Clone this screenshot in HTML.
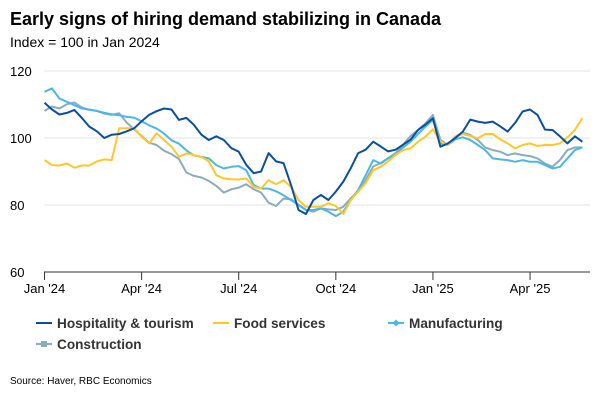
<!DOCTYPE html>
<html><head><meta charset="utf-8"><style>
body{margin:0;background:#fff;font-family:"Liberation Sans",sans-serif;}
</style></head><body>
<svg id="chart" width="600" height="400" xmlns="http://www.w3.org/2000/svg" font-family="Liberation Sans, sans-serif">
<text x="10" y="25" font-size="18" font-weight="bold" fill="#000">Early signs of hiring demand stabilizing in Canada</text>
<text x="10" y="47" font-size="14" fill="#000">Index = 100 in Jan 2024</text>
<g id="grid"></g><g id="xaxis"></g><g id="series"></g>
<g id="legend" font-size="13.6" font-weight="bold" fill="#333">
<g><line x1="36" y1="323" x2="52" y2="323" stroke="#0a4f9e" stroke-width="2"/><text x="57" y="328">Hospitality &amp; tourism</text></g>
<g><line x1="213" y1="323" x2="229" y2="323" stroke="#ffc72c" stroke-width="2"/><text x="234" y="328">Food services</text></g>
<g><line x1="388" y1="323" x2="404" y2="323" stroke="#4cb7e6" stroke-width="2"/><path d="M396 319.5L399.5 323L396 326.5L392.5 323Z" fill="#4cb7e6"/><text x="409" y="328">Manufacturing</text></g>
<g><line x1="36" y1="344" x2="52" y2="344" stroke="#8aacbf" stroke-width="2"/><rect x="41" y="341" width="6" height="6" fill="#8aacbf"/><text x="57" y="349">Construction</text></g>
</g>
<text x="10" y="384" font-size="10" fill="#000">Source: Haver, RBC Economics</text>
</svg>
<script>
const yTicks=[60,80,100,120];
const xTickLabels=["Jan '24","Apr '24","Jul '24","Oct '24","Jan '25","Apr '25"];
const xTickWeeks=[0,13,26,39,52,65];
const hospitality=[110.5,108.5,107,107.5,108.4,106,103.4,102,100,101,101.2,102,102.9,105,106.9,108,108.8,108.5,105.4,106,103.9,101,99.4,100.5,99.4,97,95.9,92,89.5,90,95.5,93,92.5,86,78.5,77.3,81.5,83,81.5,84,87,91,95.5,96.5,98.9,97.5,96,96.5,98,99.5,102.4,104,105.9,97.4,98.4,100,101.9,105.5,104.9,104.5,104.9,103.5,101.9,104.5,107.9,108.5,106.9,102.5,102.4,100.5,98.4,100.5,98.9];
const foodServices=[93.4,91.9,91.8,92.4,91.1,91.8,91.8,93,93.6,93.4,102.9,102.9,102.9,100.4,98.4,101.4,99.4,97.4,94.4,95.4,94.9,94.4,93,88.9,87.9,87.7,87.6,87.9,85.4,84.9,87.4,86.2,87.4,85.4,81.5,79.5,79.5,79.5,80.5,79.7,77.3,81.5,84,86.5,90.4,91.4,93,94.9,96.4,96.9,98.9,100.4,102.6,98.9,97.9,100.2,101.2,100.6,99.9,101.2,101.2,99.6,98.4,96.9,97.9,98.4,97.6,97.9,97.9,98.4,100.2,102.4,105.9];
const manufacturing=[113.8,114.8,111.8,110.8,109.8,108.8,108.5,108.1,107.5,107.1,106.8,106.3,106.1,105,103.8,102.8,101.3,99.3,98.3,96.3,94.8,94.4,93.9,91.9,90.9,91.4,91.6,90.4,85.9,84.9,84.9,84.1,82.9,81.5,80,78.5,78.5,79,78,76.7,78,81.5,84.5,88.9,93.4,92.4,93.9,94.9,97.2,98.9,101.2,103.4,105.4,98.4,97.9,99.6,100.2,99.4,97.9,96.4,93.9,93.6,93.4,92.9,93.4,92.9,92.9,91.9,90.9,91.4,93.9,96.4,97.2];
const construction=[108.1,109.4,108.8,110.1,110.6,109.1,108.4,108.1,107.3,106.9,107.4,104.6,102.6,100.6,98.6,97.9,96.2,95.2,93.7,89.7,88.7,88.2,87.2,85.7,83.7,84.7,85.2,86.2,84.7,83.7,80.7,79.7,81.9,81.7,80.1,78.6,78,79,78.7,78.5,79.5,82,84,87.5,91.5,92.5,94,95.5,98,100.6,102.4,104.4,106.9,99.4,97.9,100.4,101.6,100.9,99.4,97.2,96.4,95.9,94.9,95.4,94.9,94.6,93.9,92.4,91.4,93.4,96.4,97.2,97.2];
const NS="http://www.w3.org/2000/svg";
const X0=44.5,PXW=7.47,L=44,R=590;
const xs=w=>X0+w*PXW;
const ys=v=>272-(v-60)*(201/60);
const grid=document.getElementById('grid'),xa=document.getElementById('xaxis'),sg=document.getElementById('series');
yTicks.forEach(t=>{
  if(t>60){const l=document.createElementNS(NS,'line');
  
  
  l.setAttribute('x1',L);l.setAttribute('x2',R);l.setAttribute('y1',ys(t));l.setAttribute('y2',ys(t));l.setAttribute('stroke','#e3e3e3');l.setAttribute('stroke-width','1');grid.appendChild(l);}
  const tx=document.createElementNS(NS,'text');
  
  
  tx.setAttribute('x',10);tx.setAttribute('y',ys(t)+5);tx.setAttribute('font-size','13');tx.setAttribute('fill','#000');tx.textContent=t;grid.appendChild(tx);
});
const ax=document.createElementNS(NS,'line');


ax.setAttribute('x1',L);ax.setAttribute('x2',R);ax.setAttribute('y1',272);ax.setAttribute('y2',272);ax.setAttribute('stroke','#333');ax.setAttribute('stroke-width','1');xa.appendChild(ax);
xTickWeeks.forEach((w,i)=>{
  const t=document.createElementNS(NS,'line');
  
  
  t.setAttribute('x1',xs(w));t.setAttribute('x2',xs(w));t.setAttribute('y1',272);t.setAttribute('y2',280);t.setAttribute('stroke','#333');xa.appendChild(t);
  const tx=document.createElementNS(NS,'text');
  
  
  tx.setAttribute('x',xs(w));tx.setAttribute('y',293);tx.setAttribute('font-size','13');tx.setAttribute('text-anchor','middle');tx.setAttribute('fill','#000');tx.textContent=xTickLabels[i];xa.appendChild(tx);
});
function line(data,color,name){
  const p=document.createElementNS(NS,'path');
  
  
  p.setAttribute('d',data.map((v,i)=>(i?'L':'M')+xs(i).toFixed(1)+' '+ys(v).toFixed(1)).join(''));
  p.setAttribute('fill','none');p.setAttribute('stroke',color);p.setAttribute('stroke-width','2');p.setAttribute('stroke-linejoin','round');
  sg.appendChild(p);
}
line(construction,'#8aacbf','construction-line');
line(manufacturing,'#4cb7e6','manufacturing-line');
line(foodServices,'#ffc72c','food-services-line');
line(hospitality,'#0a4f9e','hospitality-line');
</script>
</body></html>
